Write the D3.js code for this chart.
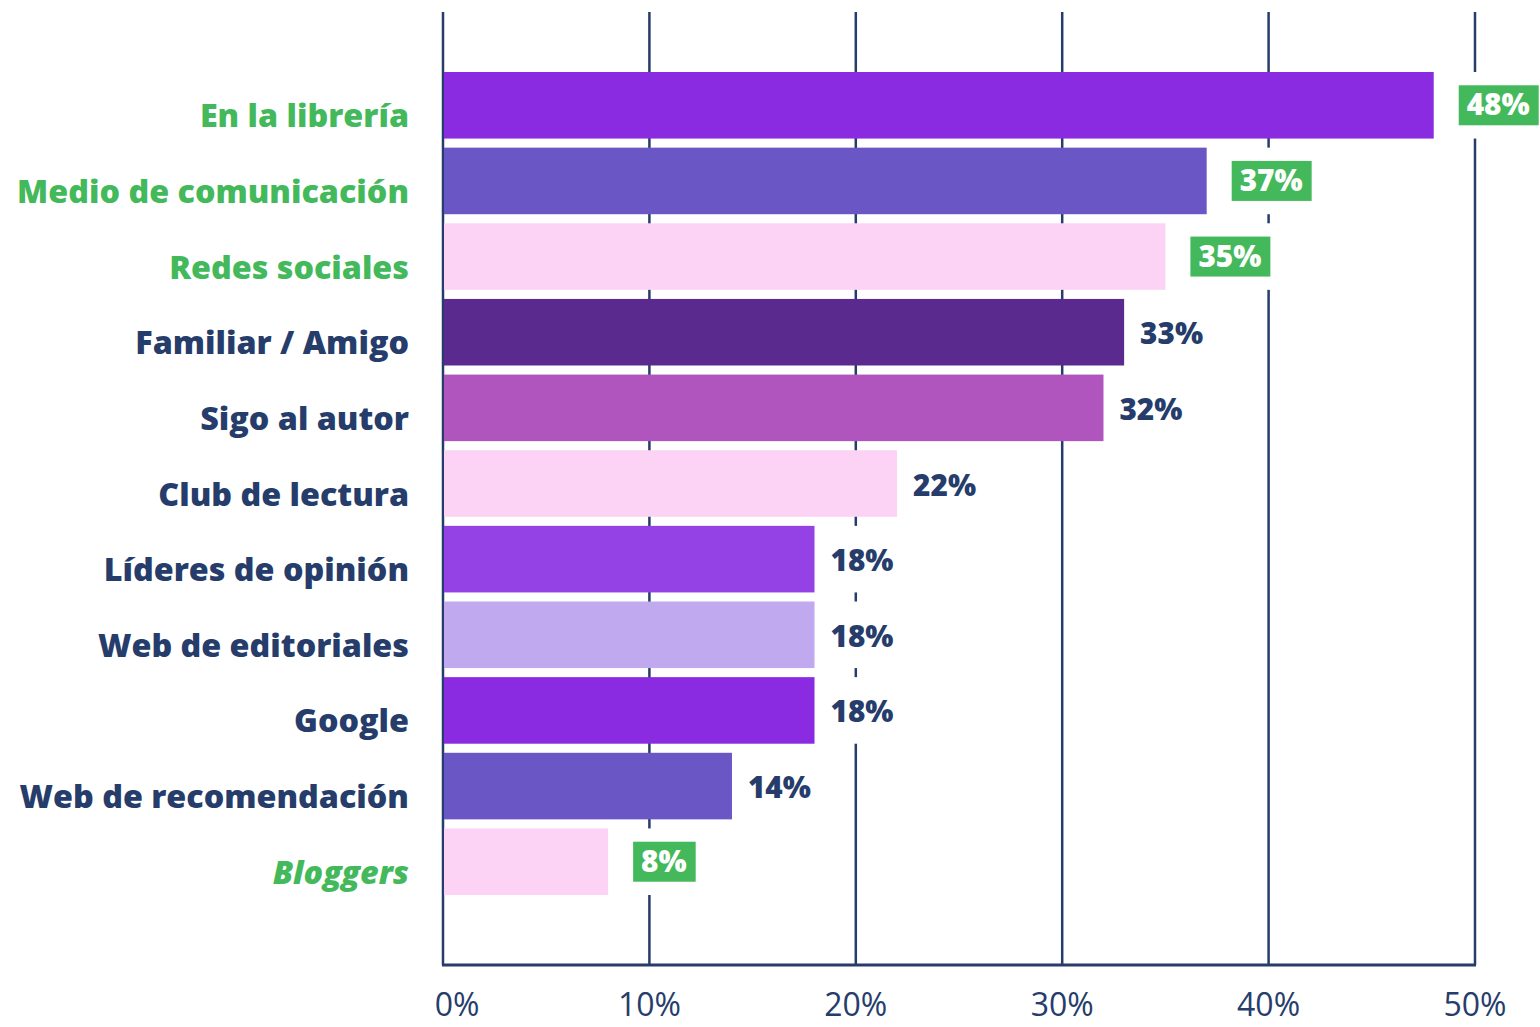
<!DOCTYPE html>
<html><head><meta charset="utf-8">
<script src="https://cdn.jsdelivr.net/npm/d3@7"></script>
<style>
html,body{margin:0;padding:0;background:#fff;}
svg{display:block;}
</style></head>
<body>
<svg id="chart" width="1540" height="1027"></svg>
<script>
const categories = ["En la librería","Medio de comunicación","Redes sociales","Familiar / Amigo","Sigo al autor","Club de lectura","Líderes de opinión","Web de editoriales","Google","Web de recomendación","Bloggers"];
const values = [48,37,35,33,32,22,18,18,18,14,8];
const barColors = ["#8a2be2","#6a56c4","#fcd3f5","#5b2a8f","#b054be","#fcd3f5","#9442e5","#c0a9ee","#8a2be2","#6a56c4","#fcd3f5"];
const highlighted = [true,true,true,false,false,false,false,false,false,false,true];
const italicCats = ["Bloggers"];
const tickValues = [0,10,20,30,40,50];
const tickLabels = ["0%","10%","20%","30%","40%","50%"];

const GREEN = "#44b95c", NAVY = "#263d6b";
const FONT = "'Open Sans', Lato, sans-serif";
const svg = d3.select("#chart");

function measure(txt, size, weight){
  const t = svg.append("text").attr("font-family",FONT).attr("font-size",size).attr("font-weight",weight).text(txt);
  const w = t.node().getComputedTextLength(); t.remove(); return w;
}
const catSize = Math.max(24, Math.min(34, 100 * 392 / measure("Medio de comunicación",100,800)));
const valSize = Math.max(22, Math.min(32, 100 * 63 / measure("48%",100,800)));
const tickSize = Math.max(24, Math.min(32, 100 * 66 / measure("50%",100,500)));

const x = d3.scaleLinear().domain([0,50]).range([443,1475]);
const y = d3.scaleBand().domain(categories).range([72,895]).paddingInner(0.12).paddingOuter(0);

// gridlines
svg.append("g").selectAll("line").data(tickValues).join("line")
  .attr("x1",d=>x(d)).attr("x2",d=>x(d)).attr("y1",12).attr("y2",965)
  .attr("stroke",NAVY).attr("stroke-width",2.5);
// bottom axis line
svg.append("line").attr("x1",x(0)-1).attr("x2",x(50)+1).attr("y1",965).attr("y2",965)
  .attr("stroke",NAVY).attr("stroke-width",3);

// tick labels
svg.append("g").selectAll("text").data(tickValues).join("text")
  .attr("x",(d,i)=>x(d)+(i===0?14:0)).attr("y",1016).attr("text-anchor","middle")
  .attr("font-family",FONT).attr("font-size",tickSize).attr("font-weight",500)
  .attr("fill",NAVY).text((d,i)=>tickLabels[i]);

// bars
const bw = y.bandwidth();
svg.append("g").selectAll("rect").data(categories).join("rect")
  .attr("x",x(0)+1).attr("y",d=>y(d)).attr("width",(d,i)=>x(values[i])-x(0)-1).attr("height",bw)
  .attr("fill",(d,i)=>barColors[i]);

// category labels
svg.append("g").selectAll("text").data(categories).join("text")
  .attr("x",409).attr("y",d=>y(d)+bw/2+22).attr("text-anchor","end")
  .attr("font-family",FONT).attr("font-size",catSize).attr("font-weight",800)
  .attr("font-style",d=>italicCats.includes(d)?"italic":"normal")
  .attr("fill",(d,i)=>highlighted[i]?GREEN:NAVY).text(d=>d);

// value labels
const lg = svg.append("g");
categories.forEach((c,i)=>{
  const g = lg.append("g");
  const cy = y(c)+bw/2;
  const hl = highlighted[i];
  const tx = x(values[i]) + (hl ? 33 : 16);
  const bgRect = g.append("rect").attr("fill","#fff");
  const boxRect = hl ? g.append("rect").attr("fill",GREEN) : null;
  const t = g.append("text").attr("x",tx).attr("y",cy+(hl?10:12))
    .attr("font-family",FONT).attr("font-size",valSize).attr("font-weight",800)
    .attr("fill",hl?"#fff":NAVY).text(values[i]+"%");
  const w = t.node().getComputedTextLength();
  bgRect.attr("x",tx-14).attr("y",y(c)).attr("width",w+28).attr("height",bw);
  if(boxRect) boxRect.attr("x",tx-8).attr("y",cy-20).attr("width",w+17).attr("height",40);
});
</script>
</body></html>
